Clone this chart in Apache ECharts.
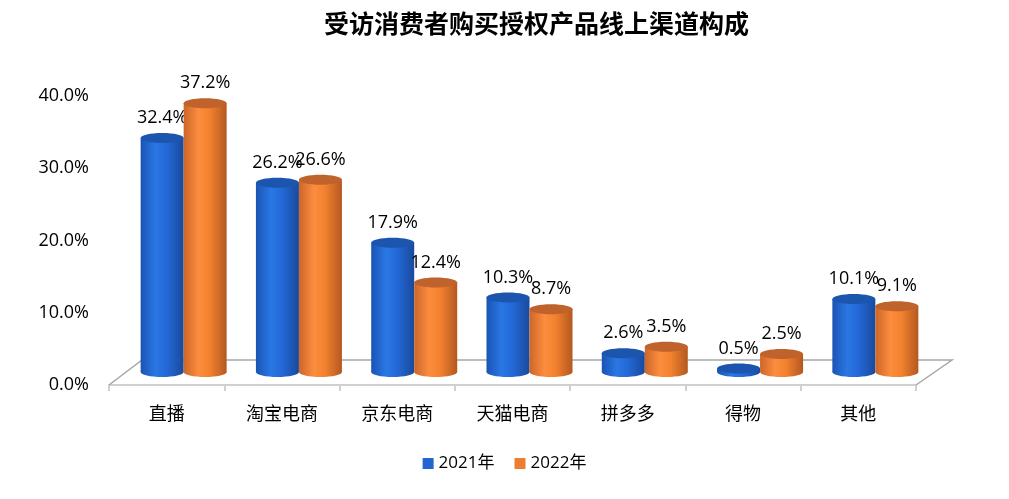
<!DOCTYPE html>
<html><head><meta charset="utf-8">
<script src="https://cdn.jsdelivr.net/npm/echarts@6/dist/echarts.min.js"></script>
<style>html,body{margin:0;padding:0;background:#fff}#c{width:1009px;height:499px}</style>
</head><body><div id="c"></div>
<script>
const categories = ['直播','淘宝电商','京东电商','天猫电商','拼多多','得物','其他'];
const values2021 = [32.4, 26.2, 17.9, 10.3, 2.6, 0.5, 10.1];
const values2022 = [37.2, 26.6, 12.4, 8.7, 3.5, 2.5, 9.1];
const seriesNames = ['2021年','2022年'];
const yTicks = [0, 10, 20, 30, 40];

const FONT = '"Open Sans","Noto Sans CJK SC",sans-serif';
const CJK = '"Noto Sans CJK SC",sans-serif';
const DX = 17, DY = 13, BAR_W = 43, RY = 5;
const palette = [
  {legend:'#2166d1', body:['#1a54b4','#2a77e4','#2369d7','#194a9c'], top:'#1c55ad'},
  {legend:'#ed7d31', body:['#cc6629','#fc8d3e','#f3822f','#b45820'], top:'#c0622b'}
];

function cylinder(si){
  return function(params, api){
    const idx = api.value(0), val = api.value(1);
    const base = api.coord([idx, 0]);
    const top = api.coord([idx, val]);
    const cx = base[0] + (si === 0 ? -BAR_W/2 : BAR_W/2) + DX;
    const by = base[1] - DY, ty = top[1] - DY;
    const p = palette[si];
    const grad = new echarts.graphic.LinearGradient(0,0,1,0,[
      {offset:0,color:p.body[0]},{offset:0.35,color:p.body[1]},{offset:0.6,color:p.body[2]},{offset:1,color:p.body[3]}]);
    return {type:'group', children:[
      {type:'ellipse', shape:{cx:cx, cy:by, rx:BAR_W/2, ry:RY}, style:{fill:grad}},
      {type:'rect', shape:{x:cx-BAR_W/2, y:ty, width:BAR_W, height:Math.max(0,by-ty)}, style:{fill:grad}},
      {type:'ellipse', shape:{cx:cx, cy:ty, rx:BAR_W/2, ry:RY}, style:{fill:p.top}},
      {type:'text', style:{x:cx, y:ty-20, text:val.toFixed(1)+'%', fill:'#000', font:'18px '+FONT, align:'center', verticalAlign:'middle'}}
    ]};
  };
}

function floorItem(params, api){
  const cs = params.coordSys;
  const x0 = cs.x, x1 = cs.x + cs.width, y = cs.y + cs.height;
  return {type:'polyline', shape:{points:[[x0,y],[x0+33,y-25],[x1+36,y-25],[x1,y]]},
    style:{stroke:'#a6a6a6', lineWidth:1.5, fill:'rgba(255,255,255,0)'}, z2:0};
}

const chart = echarts.init(document.getElementById('c'), null, {renderer:'canvas'});
chart.setOption({
  animation:false,
  textStyle:{fontFamily:FONT},
  title:{text:'受访消费者购买授权产品线上渠道构成', left:319, top:6,
    textStyle:{fontSize:25, fontWeight:'bold', color:'#000', fontFamily:CJK}},
  legend:{data:seriesNames, bottom:22, left:'center', itemWidth:11, itemHeight:11, itemGap:20, icon:'rect',
    textStyle:{fontSize:17, color:'#000', fontFamily:FONT}},
  grid:{left:109, right:93, top:96, bottom:114},
  xAxis:{type:'category', data:categories,
    axisLine:{lineStyle:{color:'#d0d0d0', width:2}},
    axisTick:{show:true, length:6, lineStyle:{color:'#d0d0d0', width:2}},
    axisLabel:{fontSize:18, color:'#000', margin:19, fontFamily:CJK}},
  yAxis:{type:'value', min:yTicks[0], max:yTicks[yTicks.length-1], interval:10,
    axisLine:{show:false}, axisTick:{show:false}, splitLine:{show:false},
    axisLabel:{fontSize:18, color:'#000', margin:20, fontFamily:FONT, formatter:v=>v.toFixed(1)+'%'}},
  series:[
    {type:'custom', name:'floor', renderItem:floorItem, data:[[0,0]], silent:true, z:1},
    {type:'custom', name:seriesNames[0], itemStyle:{color:palette[0].legend}, renderItem:cylinder(0),
      data:values2021.map((v,i)=>[i,v]), z:2},
    {type:'custom', name:seriesNames[1], itemStyle:{color:palette[1].legend}, renderItem:cylinder(1),
      data:values2022.map((v,i)=>[i,v]), z:3}
  ]
});
</script></body></html>
